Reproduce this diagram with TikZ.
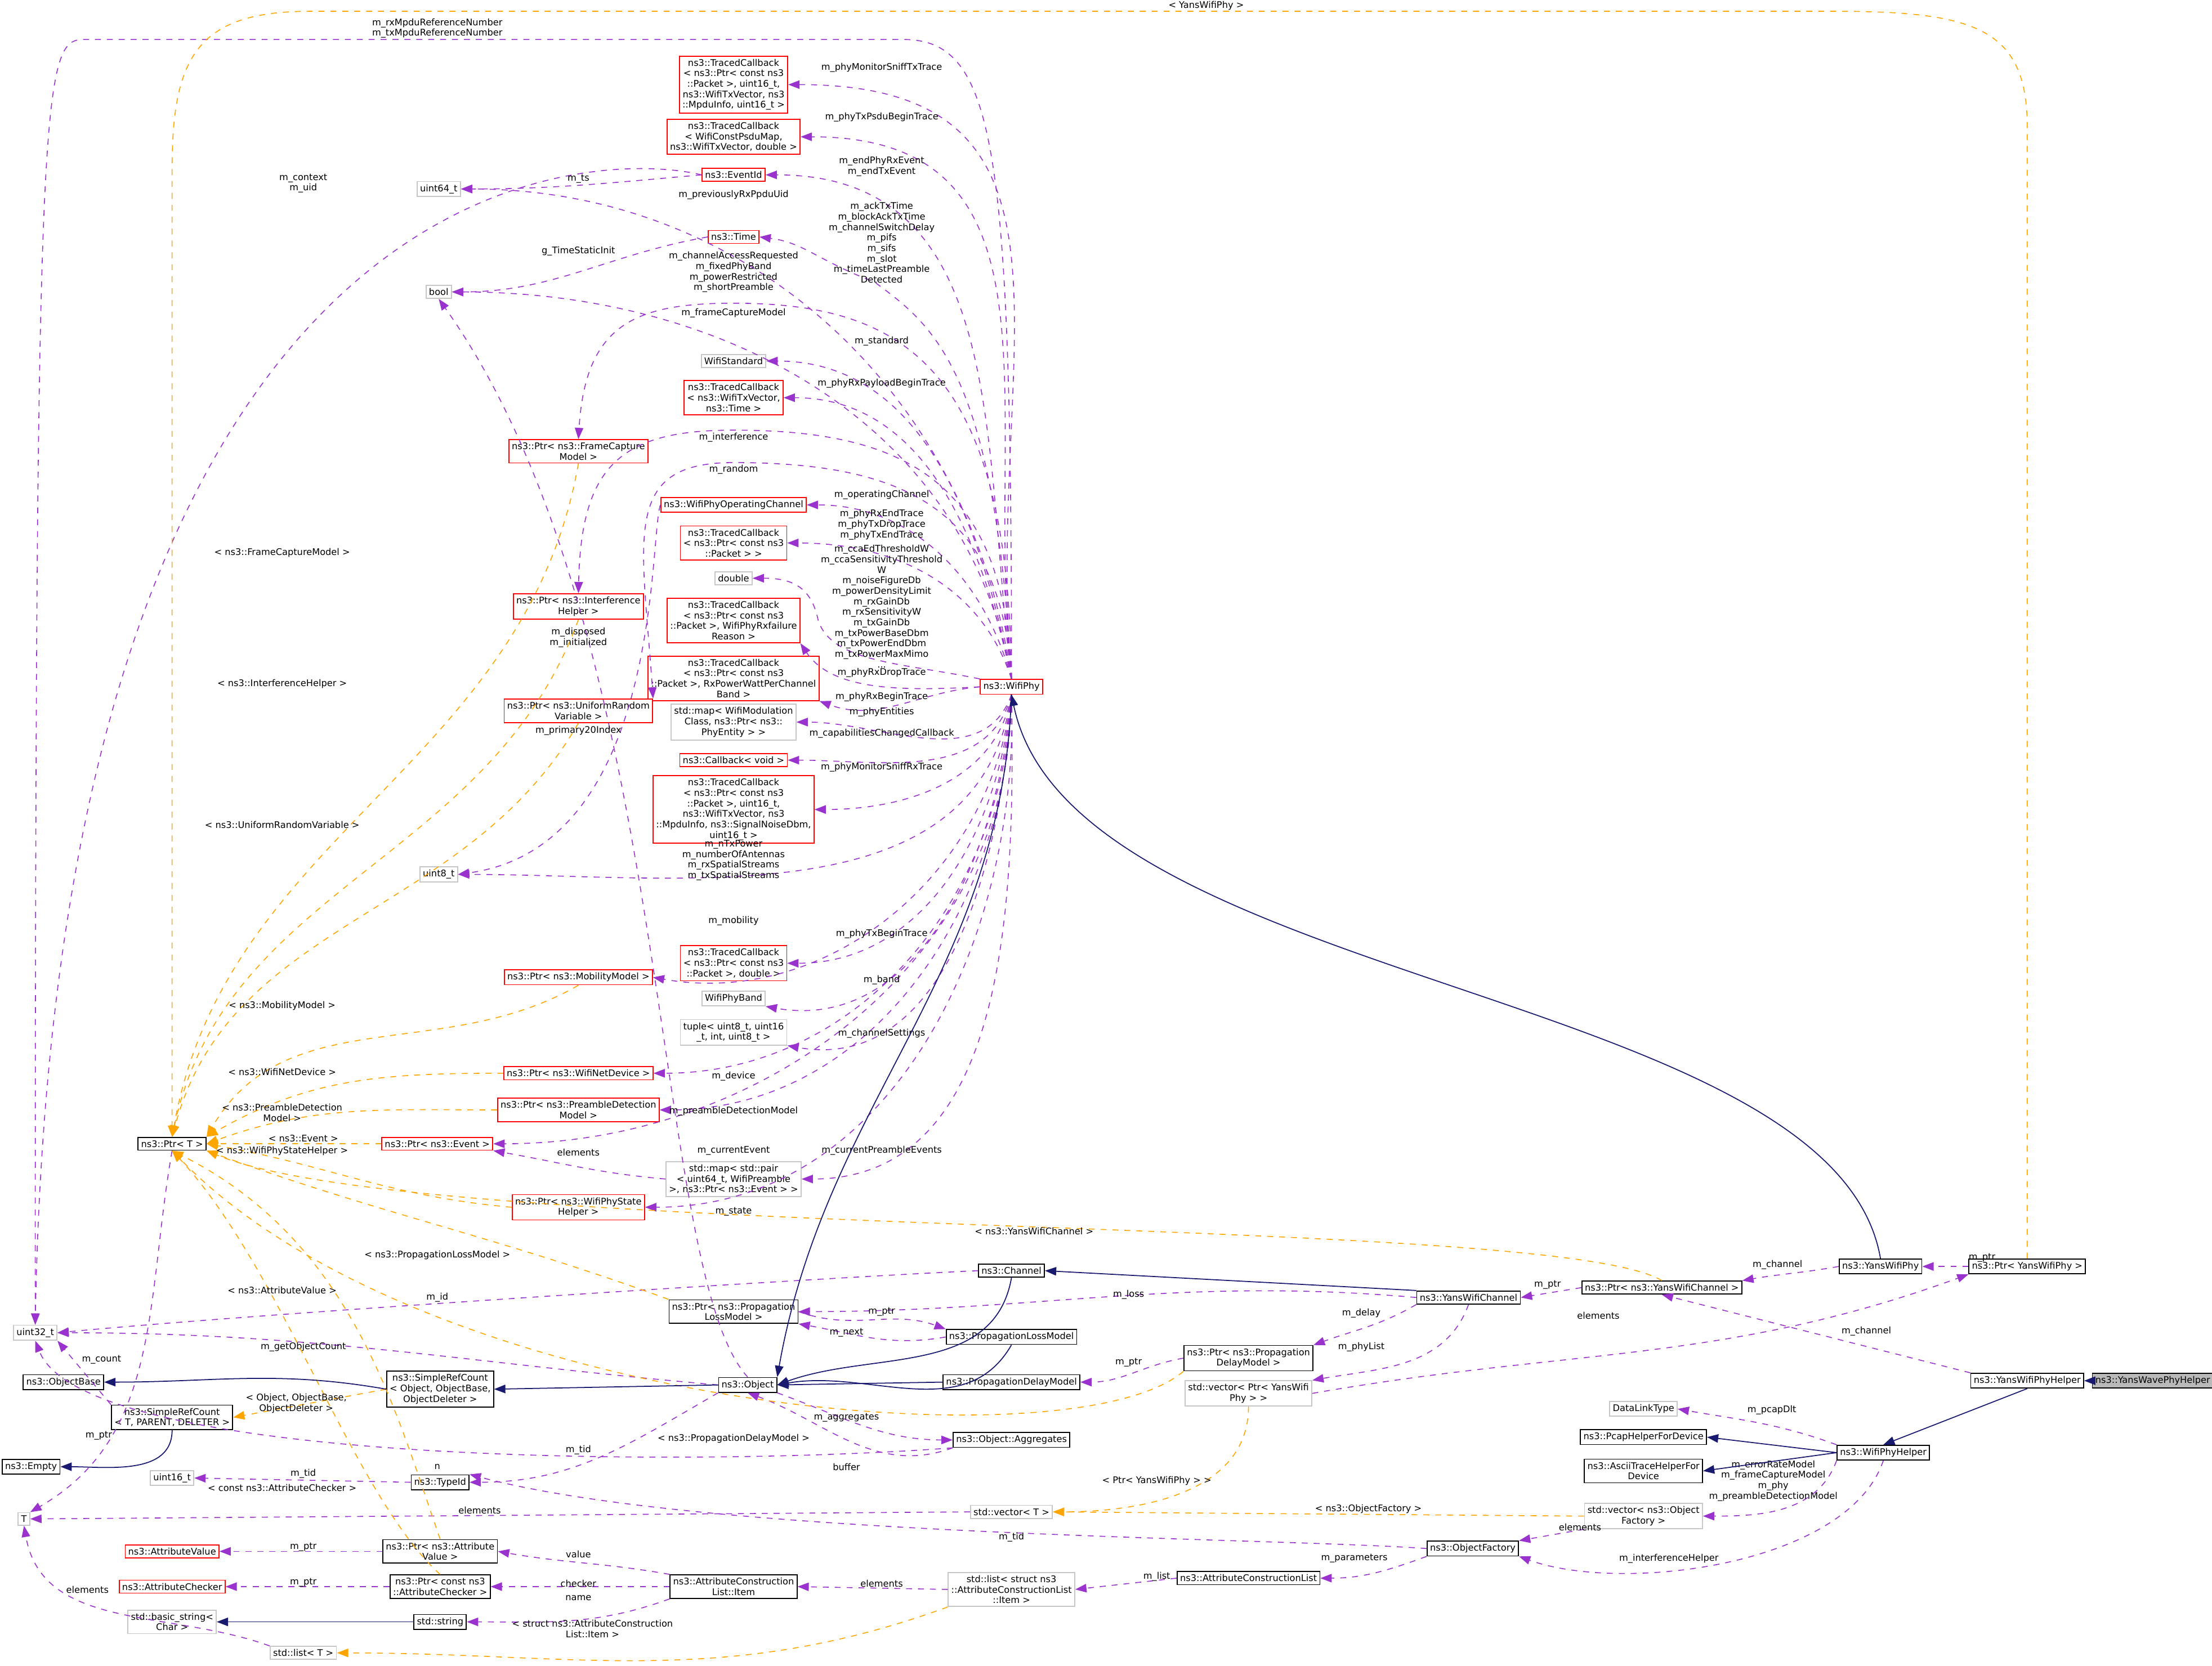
\documentclass[tikz,border=0pt]{standalone}
\usepackage{fontspec}
\setmainfont{DejaVu Sans}
\usetikzlibrary{arrows.meta, positioning}
\definecolor{memc}{HTML}{9A32CD}
\definecolor{tplc}{HTML}{FFA500}
\definecolor{inhc}{HTML}{191970}
\tikzset{
  box/.style={fill=white, align=center, inner sep=1.5pt, font=\fontsize{4.6}{5.3}\selectfont, line width=0.5pt},
  redbox/.style={box, draw=red},
  greybox/.style={box, draw=gray!45},
  blackbox/.style={box, draw=black},
  lbl/.style={align=center, inner sep=0pt, font=\fontsize{4.6}{5.3}\selectfont},
  mem/.style={draw=memc, dashed, line width=0.45pt, -{Triangle[length=2mm,width=1.5mm]}},
  tpl/.style={draw=tplc, dashed, line width=0.45pt, -{Triangle[length=2mm,width=1.5mm]}},
  inh/.style={draw=inhc, line width=0.5pt, -{Triangle[length=2mm,width=1.5mm]}},
}
\begin{document}
\begin{tikzpicture}[x=0.025cm, y=0.025cm]
    \useasboundingbox (0,0) rectangle (1568,-1181);
    % left column
    \node[greybox] (u32) at (25,-945) {uint32\_t};
    \node[blackbox] (objbase) at (45,-980) {ns3::ObjectBase};
    \node[blackbox] (srct) at (122,-1005) {ns3::SimpleRefCount\\< T, PARENT, DELETER >};
    \node[blackbox] (empty) at (22,-1040) {ns3::Empty};
    \node[blackbox] (ptrt) at (122,-811) {ns3::Ptr< T >};
    \node[greybox] (tt) at (17,-1077) {T};
    \node[greybox] (u16) at (122,-1048) {uint16\_t};
    \node[redbox] (attval) at (122,-1100) {ns3::AttributeValue};
    \node[redbox] (attchk) at (122,-1125) {ns3::AttributeChecker};
    \node[greybox] (bstr) at (122,-1150) {std::basic\_string<\\Char >};
    \node[greybox] (listt) at (215,-1172) {std::list< T >};
    \node[greybox] (u64) at (311,-134) {uint64\_t};
    \node[greybox] (bool) at (311,-207) {bool};
    \node[greybox] (u8) at (311,-620) {uint8\_t};

    % members of WifiPhy
    \node[redbox] (tc1) at (520,-60) {ns3::TracedCallback\\< ns3::Ptr< const ns3\\::Packet >, uint16\_t,\\ns3::WifiTxVector, ns3\\::MpduInfo, uint16\_t >};
    \node[redbox] (tc2) at (520,-97) {ns3::TracedCallback\\< WifiConstPsduMap,\\ns3::WifiTxVector, double >};
    \node[redbox] (evid) at (520,-124) {ns3::EventId};
    \node[redbox] (time) at (520,-168) {ns3::Time};
    \node[greybox] (wstd) at (520,-256) {WifiStandard};
    \node[redbox] (tc3) at (520,-282) {ns3::TracedCallback\\< ns3::WifiTxVector,\\ns3::Time >};
    \node[redbox] (pfcm) at (410,-320) {ns3::Ptr< ns3::FrameCapture\\Model >};
    \node[redbox] (opch) at (520,-358) {ns3::WifiPhyOperatingChannel};
    \node[redbox] (tc4) at (520,-385) {ns3::TracedCallback\\< ns3::Ptr< const ns3\\::Packet > >};
    \node[greybox] (dbl) at (520,-410) {double};
    \node[redbox] (tc5) at (520,-440) {ns3::TracedCallback\\< ns3::Ptr< const ns3\\::Packet >, WifiPhyRxfailure\\Reason >};
    \node[redbox] (pint) at (410,-430) {ns3::Ptr< ns3::Interference\\Helper >};
    \node[redbox] (tc6) at (520,-481) {ns3::TracedCallback\\< ns3::Ptr< const ns3\\::Packet >, RxPowerWattPerChannel\\Band >};
    \node[redbox] (puni) at (410,-504) {ns3::Ptr< ns3::UniformRandom\\Variable >};
    \node[greybox] (ments) at (520,-512) {std::map< WifiModulation\\Class, ns3::Ptr< ns3::\\PhyEntity > >};
    \node[redbox] (cbv) at (520,-539) {ns3::Callback< void >};
    \node[redbox] (tc7) at (520,-574) {ns3::TracedCallback\\< ns3::Ptr< const ns3\\::Packet >, uint16\_t,\\ns3::WifiTxVector, ns3\\::MpduInfo, ns3::SignalNoiseDbm,\\uint16\_t >};
    \node[redbox] (tc8) at (520,-683) {ns3::TracedCallback\\< ns3::Ptr< const ns3\\::Packet >, double >};
    \node[greybox] (band) at (520,-708) {WifiPhyBand};
    \node[greybox] (tup) at (520,-732) {tuple< uint8\_t, uint16\\\_t, int, uint8\_t >};
    \node[redbox] (pmob) at (410,-693) {ns3::Ptr< ns3::MobilityModel >};
    \node[redbox] (pdev) at (410,-761) {ns3::Ptr< ns3::WifiNetDevice >};
    \node[redbox] (ppre) at (410,-787) {ns3::Ptr< ns3::PreambleDetection\\Model >};
    \node[redbox] (pev) at (310,-811) {ns3::Ptr< ns3::Event >};
    \node[greybox] (mpair) at (520,-836) {std::map< std::pair\\< uint64\_t, WifiPreamble\\>, ns3::Ptr< ns3::Event > >};
    \node[redbox] (pstate) at (410,-856) {ns3::Ptr< ns3::WifiPhyState\\Helper >};
    \node[redbox] (phy) at (717,-487) {ns3::WifiPhy};

    % lower part
    \node[blackbox] (chan) at (717,-901) {ns3::Channel};
    \node[blackbox] (ploss) at (520,-930) {ns3::Ptr< ns3::Propagation\\LossModel >};
    \node[blackbox] (loss) at (717,-948) {ns3::PropagationLossModel};
    \node[blackbox] (delay) at (717,-980) {ns3::PropagationDelayModel};
    \node[blackbox] (obj) at (530,-982) {ns3::Object};
    \node[blackbox] (srco) at (312,-985) {ns3::SimpleRefCount\\< Object, ObjectBase,\\ObjectDeleter >};
    \node[blackbox] (aggr) at (717,-1021) {ns3::Object::Aggregates};
    \node[blackbox] (tid) at (312,-1051) {ns3::TypeId};
    \node[blackbox] (pattv) at (312,-1100) {ns3::Ptr< ns3::Attribute\\Value >};
    \node[blackbox] (pattc) at (312,-1125) {ns3::Ptr< const ns3\\::AttributeChecker >};
    \node[blackbox] (str) at (312,-1150) {std::string};
    \node[blackbox] (item) at (520,-1125) {ns3::AttributeConstruction\\List::Item};
    \node[greybox] (litem) at (717,-1127) {std::list< struct ns3\\::AttributeConstructionList\\::Item >};
    \node[blackbox] (acl) at (885,-1119) {ns3::AttributeConstructionList};
    \node[blackbox] (ofac) at (1044,-1098) {ns3::ObjectFactory};
    \node[greybox] (vect) at (717,-1072) {std::vector< T >};
    \node[greybox] (vofac) at (1165,-1075) {std::vector< ns3::Object\\Factory >};
    \node[blackbox] (ychan) at (1041,-920) {ns3::YansWifiChannel};
    \node[blackbox] (pdel) at (885,-963) {ns3::Ptr< ns3::Propagation\\DelayModel >};
    \node[greybox] (vyphy) at (885,-988) {std::vector< Ptr< YansWifi\\Phy > >};
    \node[blackbox] (pychan) at (1178,-913) {ns3::Ptr< ns3::YansWifiChannel >};
    \node[blackbox] (yphy) at (1333,-898) {ns3::YansWifiPhy};
    \node[blackbox] (pyphy) at (1437,-898) {ns3::Ptr< YansWifiPhy >};
    \node[blackbox] (yhelp) at (1437,-979) {ns3::YansWifiPhyHelper};
    \node[blackbox, fill=gray!55] (wave) at (1526,-979) {ns3::YansWavePhyHelper};
    \node[greybox] (dlt) at (1165,-999) {DataLinkType};
    \node[blackbox] (pcap) at (1165,-1019) {ns3::PcapHelperForDevice};
    \node[blackbox] (ascii) at (1165,-1043) {ns3::AsciiTraceHelperFor\\Device};
    \node[blackbox] (whelp) at (1335,-1030) {ns3::WifiPhyHelper};

    % WifiPhy members, upwards
    \draw[mem] (phy.north) .. controls (717,-100) and (705,-28) .. (640,-28) -- (60,-28) .. controls (30,-28) and (25,-50) .. (u32.north);
    \draw[mem] (phy.north) to[out=95,in=0,looseness=1.3] (tc1.east);
    \draw[mem] (phy.north) to[out=96,in=0,looseness=1.2] (tc2.east);
    \draw[mem] (phy.north) to[out=97,in=0,looseness=1.1] (evid.east);
    \draw[mem] (phy.north) to[out=98,in=0] (u64.east);
    \draw[mem] (phy.north) .. controls (705,-260) and (660,-230) .. (620,-200) .. controls (580,-185) and (570,-172) .. (time.east);
    \draw[mem] (phy.north) to[out=100,in=0] (bool.east);
    \draw[mem] (phy.north) .. controls (715,-260) and (640,-215) .. (520,-215) .. controls (450,-215) and (415,-230) .. (pfcm.north);
    \draw[mem] (phy.north) to[out=101,in=0] (wstd.east);
    \draw[mem] (phy.north) to[out=102,in=0] (tc3.east);
    \draw[mem] (phy.north) .. controls (712,-340) and (640,-305) .. (520,-305) .. controls (440,-305) and (412,-330) .. (pint.north);
    \draw[mem] (phy.north) .. controls (710,-360) and (640,-328) .. (520,-328) .. controls (440,-328) and (455,-380) .. (puni.north east);
    \draw[mem] (phy.north) to[out=105,in=0] (opch.east);
    \draw[mem] (phy.north) to[out=108,in=0] (tc4.east);
    \draw[mem] (phy.north west) .. controls (640,-470) and (590,-470) .. (580,-440) .. controls (575,-415) and (560,-410) .. (dbl.east);
    \draw[mem] (phy.west) .. controls (640,-490) and (590,-490) .. (tc5.south east);
    \draw[mem] (phy.west) to[out=185,in=-20] (tc6.south east);
    % WifiPhy members, downwards
    \draw[mem] (phy.south) to[out=-110,in=0] (ments.east);
    \draw[mem] (phy.south) to[out=-105,in=0] (cbv.east);
    \draw[mem] (phy.south) to[out=-100,in=0] (tc7.east);
    \draw[mem] (phy.south) to[out=-98,in=0] (u8.east);
    \draw[mem] (phy.south) to[out=-96,in=-10] (pmob.east);
    \draw[mem] (phy.south) to[out=-95,in=0] (tc8.east);
    \draw[mem] (phy.south) to[out=-94,in=-10] (band.south east);
    \draw[mem] (phy.south) to[out=-93,in=-10] (tup.south east);
    \draw[mem] (phy.south) to[out=-92,in=0] (pdev.east);
    \draw[mem] (phy.south) to[out=-91,in=0] (ppre.east);
    \draw[mem] (phy.south) to[out=-90,in=0] (pev.east);
    \draw[mem] (phy.south) to[out=-89,in=0] (mpair.east);
    \draw[mem] (phy.south) to[out=-88,in=0] (pstate.east);

    \node[lbl] (l1) at (310,-20) {m\_rxMpduReferenceNumber\\m\_txMpduReferenceNumber};
    \node[lbl] (l2) at (625,-48) {m\_phyMonitorSniffTxTrace};
    \node[lbl] (l3) at (625,-83) {m\_phyTxPsduBeginTrace};
    \node[lbl] (l4) at (625,-118) {m\_endPhyRxEvent\\m\_endTxEvent};
    \node[lbl] (l5) at (520,-138) {m\_previouslyRxPpduUid};
    \node[lbl] (l6) at (625,-172) {m\_ackTxTime\\m\_blockAckTxTime\\m\_channelSwitchDelay\\m\_pifs\\m\_sifs\\m\_slot\\m\_timeLastPreamble\\Detected};
    \node[lbl] (l7) at (520,-193) {m\_channelAccessRequested\\m\_fixedPhyBand\\m\_powerRestricted\\m\_shortPreamble};
    \node[lbl] (l8) at (520,-222) {m\_frameCaptureModel};
    \node[lbl] (l9) at (625,-242) {m\_standard};
    \node[lbl] (l10) at (625,-272) {m\_phyRxPayloadBeginTrace};
    \node[lbl] (l11) at (520,-310) {m\_interference};
    \node[lbl] (l12) at (520,-333) {m\_random};
    \node[lbl] (l13) at (625,-351) {m\_operatingChannel};
    \node[lbl] (l14) at (625,-372) {m\_phyRxEndTrace\\m\_phyTxDropTrace\\m\_phyTxEndTrace};
    \node[lbl] (l15) at (625,-430) {m\_ccaEdThresholdW\\m\_ccaSensitivityThreshold\\W\\m\_noiseFigureDb\\m\_powerDensityLimit\\m\_rxGainDb\\m\_rxSensitivityW\\m\_txGainDb\\m\_txPowerBaseDbm\\m\_txPowerEndDbm\\m\_txPowerMaxMimo\\...};
    \node[lbl] (l16) at (625,-477) {m\_phyRxDropTrace};
    \node[lbl] (l17) at (625,-494) {m\_phyRxBeginTrace};
    \node[lbl] (l18) at (625,-505) {m\_phyEntities};
    \node[lbl] (l19) at (625,-520) {m\_capabilitiesChangedCallback};
    \node[lbl] (l20) at (625,-544) {m\_phyMonitorSniffRxTrace};
    \node[lbl] (l21) at (520,-610) {m\_nTxPower\\m\_numberOfAntennas\\m\_rxSpatialStreams\\m\_txSpatialStreams};
    \node[lbl] (l22) at (520,-653) {m\_mobility};
    \node[lbl] (l23) at (625,-662) {m\_phyTxBeginTrace};
    \node[lbl] (l24) at (625,-695) {m\_band};
    \node[lbl] (l25) at (625,-733) {m\_channelSettings};
    \node[lbl] (l26) at (520,-763) {m\_device};
    \node[lbl] (l27) at (520,-788) {m\_preambleDetectionModel};
    \node[lbl] (l28) at (520,-816) {m\_currentEvent};
    \node[lbl] (l29) at (625,-816) {m\_currentPreambleEvents};
    \node[lbl] (l30) at (520,-859) {m\_state};

    % other members
    \draw[mem] (evid.west) to[out=185,in=0] (u64.east);
    \draw[mem] (evid.west) .. controls (420,-105) and (40,-110) .. (u32.north);
    \draw[mem] (time.west) to[out=190,in=0] (bool.east);
    \draw[mem] (opch.west) .. controls (460,-380) and (470,-600) .. (u8.east);
    \draw[mem] (obj.north) .. controls (460,-900) and (480,-450) .. (bool.south);
    \draw[mem] (obj.west) to[out=175,in=0] (u32.east);
    \draw[mem] (obj.south west) to[out=-150,in=0] (tid.east);
    \draw[mem] (obj.south east) to[out=-20,in=180] (aggr.west);
    \draw[mem] (aggr.south west) to[out=-160,in=-20] (obj.south);
    \draw[mem] (aggr.south west) .. controls (500,-1040) and (60,-1040) .. (u32.south);
    \draw[mem] (chan.west) .. controls (600,-905) and (200,-930) .. (u32.east);
    \draw[mem] (ychan.west) to[out=175,in=0] (ploss.east);
    \draw[mem] (loss.west) to[out=190,in=-10] (ploss.south east);
    \draw[mem] (ploss.east) to[out=-20,in=160] (loss.north west);
    \draw[mem] (ychan.south west) to[out=-150,in=20] (pdel.north east);
    \draw[mem] (pdel.west) to[out=190,in=0] (delay.east);
    \draw[mem] (ychan.south) to[out=-110,in=10] (vyphy.north east);
    \draw[mem] (vyphy.east) to[out=10,in=200] (pyphy.south west);
    \draw[mem] (pychan.west) -- (ychan.east);
    \draw[mem] (yphy.west) to[out=190,in=10] (pychan.north east);
    \draw[mem] (pyphy.west) -- (yphy.east);
    \draw[mem] (yhelp.north west) -- (pychan.south);
    \draw[mem] (whelp.north west) to[out=160,in=-10] (dlt.east);
    \draw[mem] (whelp.south west) to[out=-110,in=0] (vofac.east);
    \draw[mem] (whelp.south) .. controls (1310,-1110) and (1150,-1130) .. (ofac.south east);
    \draw[mem] (vofac.south west) -- (ofac.north east);
    \draw[mem] (ofac.south west) to[out=200,in=0] (acl.east);
    \draw[mem] (ofac.west) .. controls (900,-1090) and (500,-1090) .. (tid.north east);
    \draw[mem] (acl.west) -- (litem.east);
    \draw[mem] (litem.west) -- (item.east);
    \draw[mem] (item.north west) to[out=170,in=-10] (pattv.east);
    \draw[mem] (item.west) -- (pattc.east);
    \draw[mem] (item.south west) to[out=200,in=0] (str.east);
    \draw[mem] (pattv.west) -- (attval.east);
    \draw[mem] (pattc.west) -- (attchk.east);
    \draw[mem] (tid.west) -- (u16.east);
    \draw[mem] (vect.west) -- (tt.east);
    \draw[mem] (listt.north west) to[out=160,in=-80] (tt.south);
    \draw[mem] (srct.north west) -- (u32.south east);
    \draw[mem] (ptrt.south) to[out=-100,in=30] (tt.north east);
    \draw[mem] (mpair.west) to[out=175,in=-10] (pev.south east);

    \node[lbl] (m1) at (410,-127) {m\_ts};
    \node[lbl] (m2) at (215,-130) {m\_context\\m\_uid};
    \node[lbl] (m3) at (410,-178) {g\_TimeStaticInit};
    \node[lbl] (m4) at (410,-518) {m\_primary20Index};
    \node[lbl] (m5) at (410,-452) {m\_disposed\\m\_initialized};
    \node[lbl] (m6) at (215,-955) {m\_getObjectCount};
    \node[lbl] (m7) at (410,-1028) {m\_tid};
    \node[lbl] (m8) at (600,-1005) {m\_aggregates};
    \node[lbl] (m9) at (600,-1040) {buffer};
    \node[lbl] (m10) at (310,-1040) {n};
    \node[lbl] (m11) at (310,-920) {m\_id};
    \node[lbl] (m12) at (800,-918) {m\_loss};
    \node[lbl] (m13) at (600,-945) {m\_next};
    \node[lbl] (m14) at (625,-930) {m\_ptr};
    \node[lbl] (m15) at (965,-931) {m\_delay};
    \node[lbl] (m16) at (800,-966) {m\_ptr};
    \node[lbl] (m17) at (965,-955) {m\_phyList};
    \node[lbl] (m18) at (1133,-933) {elements};
    \node[lbl] (m19) at (1097,-911) {m\_ptr};
    \node[lbl] (m20) at (1260,-897) {m\_channel};
    \node[lbl] (m21) at (1405,-892) {m\_ptr};
    \node[lbl] (m22) at (1323,-944) {m\_channel};
    \node[lbl] (m23) at (1256,-1000) {m\_pcapDlt};
    \node[lbl] (m24) at (1257,-1050) {m\_errorRateModel\\m\_frameCaptureModel\\m\_phy\\m\_preambleDetectionModel};
    \node[lbl] (m25) at (1183,-1105) {m\_interferenceHelper};
    \node[lbl] (m26) at (1120,-1083) {elements};
    \node[lbl] (m27) at (960,-1105) {m\_parameters};
    \node[lbl] (m28) at (717,-1090) {m\_tid};
    \node[lbl] (m29) at (820,-1118) {m\_list};
    \node[lbl] (m30) at (625,-1123) {elements};
    \node[lbl] (m31) at (410,-1102) {value};
    \node[lbl] (m32) at (410,-1123) {checker};
    \node[lbl] (m33) at (410,-1133) {name};
    \node[lbl] (m34) at (215,-1097) {m\_ptr};
    \node[lbl] (m35) at (215,-1122) {m\_ptr};
    \node[lbl] (m36) at (215,-1045) {m\_tid};
    \node[lbl] (m37) at (340,-1071) {elements};
    \node[lbl] (m38) at (62,-1127) {elements};
    \node[lbl] (m39) at (72,-964) {m\_count};
    \node[lbl] (m40) at (70,-1018) {m\_ptr};
    \node[lbl] (m41) at (410,-817) {elements};

    % template instances
    \draw[tpl] (pfcm.south) to[out=-100,in=80] (ptrt.north);
    \draw[tpl] (pint.south) to[out=-110,in=78] (ptrt.north);
    \draw[tpl] (puni.south) to[out=-120,in=75] (ptrt.north);
    \draw[tpl] (pmob.south) to[out=-150,in=60] (ptrt.north east);
    \draw[tpl] (pdev.west) to[out=180,in=30] (ptrt.north east);
    \draw[tpl] (ppre.west) to[out=180,in=20] (ptrt.east);
    \draw[tpl] (pev.west) -- (ptrt.east);
    \draw[tpl] (pstate.west) to[out=175,in=-10] (ptrt.east);
    \draw[tpl] (pychan.north) .. controls (1100,-860) and (300,-880) .. (ptrt.south east);
    \draw[tpl] (ploss.north west) to[out=160,in=-20] (ptrt.south east);
    \draw[tpl] (pattv.north) .. controls (280,-1000) and (250,-880) .. (ptrt.south);
    \draw[tpl] (pattc.north) .. controls (250,-1060) and (200,-900) .. (ptrt.south);
    \draw[tpl] (pdel.south west) .. controls (760,-1040) and (300,-1000) .. (ptrt.south);
    \draw[tpl] (pyphy.north) -- (1437,-90) .. controls (1437,-20) and (1400,-8) .. (1300,-8) -- (220,-8) .. controls (140,-8) and (122,-40) .. (122,-120) -- (ptrt.north);
    \draw[tpl] (srco.west) -- (srct.east);
    \draw[tpl] (vyphy.south) to[out=-90,in=0] (vect.east);
    \draw[tpl] (vofac.west) -- (vect.east);
    \draw[tpl] (litem.south west) to[out=200,in=0] (listt.east);

    \node[lbl] (t1) at (200,-392) {< ns3::FrameCaptureModel >};
    \node[lbl] (t2) at (200,-485) {< ns3::InterferenceHelper >};
    \node[lbl] (t3) at (200,-585) {< ns3::UniformRandomVariable >};
    \node[lbl] (t4) at (200,-713) {< ns3::MobilityModel >};
    \node[lbl] (t5) at (200,-760) {< ns3::WifiNetDevice >};
    \node[lbl] (t6) at (200,-789) {< ns3::PreambleDetection\\Model >};
    \node[lbl] (t7) at (215,-807) {< ns3::Event >};
    \node[lbl] (t8) at (200,-816) {< ns3::WifiPhyStateHelper >};
    \node[lbl] (t9) at (733,-873) {< ns3::YansWifiChannel >};
    \node[lbl] (t10) at (310,-890) {< ns3::PropagationLossModel >};
    \node[lbl] (t11) at (200,-915) {< ns3::AttributeValue >};
    \node[lbl] (t12) at (200,-1055) {< const ns3::AttributeChecker >};
    \node[lbl] (t13) at (520,-1020) {< ns3::PropagationDelayModel >};
    \node[lbl] (t14) at (855,-4) {< YansWifiPhy >};
    \node[lbl] (t15) at (210,-995) {< Object, ObjectBase,\\ObjectDeleter >};
    \node[lbl] (t16) at (820,-1050) {< Ptr< YansWifiPhy > >};
    \node[lbl] (t17) at (970,-1070) {< ns3::ObjectFactory >};
    \node[lbl] (t18) at (420,-1155) {< struct ns3::AttributeConstruction\\List::Item >};

    % inheritance
    \draw[inh] (yphy.north) .. controls (1300,-700) and (760,-700) .. (phy.south);
    \draw[inh] (phy.south) to[out=-92,in=80] (obj.north east);
    \draw[inh] (chan.south) to[out=-100,in=20] (obj.east);
    \draw[inh] (loss.south) to[out=-120,in=10] (obj.east);
    \draw[inh] (delay.west) -- (obj.east);
    \draw[inh] (ychan.north west) -- (chan.east);
    \draw[inh] (obj.west) -- (srco.east);
    \draw[inh] (srco.west) to[out=170,in=0] (objbase.east);
    \draw[inh] (srct.south) to[out=-90,in=0] (empty.east);
    \draw[inh] (str.west) -- (bstr.east);
    \draw[inh] (wave.west) -- (yhelp.east);
    \draw[inh] (yhelp.south) -- (whelp.north);
    \draw[inh] (whelp.west) -- (pcap.east);
    \draw[inh] (whelp.west) -- (ascii.east);
\end{tikzpicture}
\end{document}
